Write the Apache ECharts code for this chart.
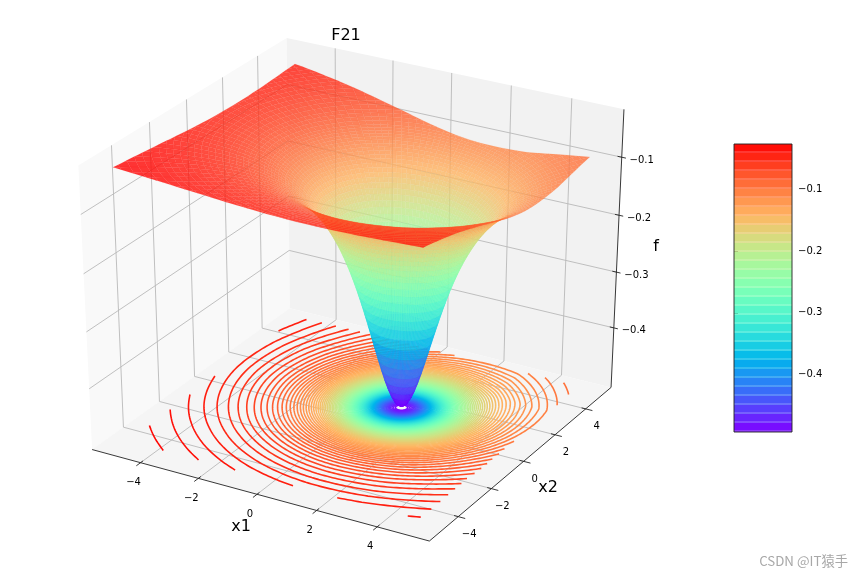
<!DOCTYPE html>
<html>
<head>
<meta charset="utf-8">
<style>html,body{margin:0;padding:0;background:#fff}#chart{width:864px;height:576px}</style>
<script src="https://cdn.jsdelivr.net/npm/echarts@6/dist/echarts.min.js"></script>
</head>
<body>
<div id="chart"></div>
<script>
// tick labels
var x1Ticks = [-4, -2, 0, 2, 4];
var x2Ticks = [-4, -2, 0, 2, 4];
var fTicks = [-0.4, -0.3, -0.2, -0.1];

// the well around (1,1): f against distance
var wellCenter = [1, 1];
var wellRadius = [0, 0.1, 0.2, 0.3, 0.4, 0.5, 0.6, 0.7, 0.8, 0.9, 1, 1.1, 1.2, 1.3, 1.4, 1.5, 1.6, 1.7, 1.8, 1.9, 2,
    2.1, 2.2, 2.3, 2.4, 2.5, 2.6, 2.7, 2.8, 2.9, 3, 3.1, 3.2, 3.3, 3.4, 3.5, 3.6, 3.7, 3.8, 3.9, 4,
    4.15, 4.3, 4.45, 4.6, 4.8, 5, 5.2, 5.4, 5.6, 5.8, 6, 6.2, 6.4, 6.6, 6.8, 7, 7.25, 7.5, 7.75, 8, 8.3, 8.6];
var wellValue = [-0.4545, -0.4525, -0.4464, -0.4367, -0.4237, -0.4082, -0.3906, -0.3717, -0.3521, -0.3322, -0.3125,
    -0.2933, -0.2747, -0.2571, -0.2404, -0.2247, -0.2101, -0.1965, -0.1838, -0.1721, -0.1613,
    -0.1513, -0.142, -0.1335, -0.1256, -0.1183, -0.1116, -0.1054, -0.0996, -0.0943, -0.0893,
    -0.0847, -0.0804, -0.0764, -0.0727, -0.0692, -0.066, -0.0629, -0.0601, -0.0574, -0.0549,
    -0.0515, -0.0483, -0.0455, -0.0428, -0.0396, -0.0368, -0.0342, -0.0319, -0.0298, -0.0279, -0.0262,
    -0.0246, -0.0232, -0.0219, -0.0206, -0.0195, -0.0183, -0.0171, -0.0161, -0.0151, -0.0141, -0.0131];

// slow tilt of the sheet under the well, rows go x2 = -5..5, columns x1 = -5..5
var tiltNodes = [-5, -3, -1, 1, 3, 5];
var tiltRows = [
    [-0.0142, -0.0164, -0.0186, -0.0205, -0.0217, -0.0220],
    [-0.0167, -0.0198, -0.0231, -0.0262, -0.0283, -0.0287],
    [-0.0194, -0.0237, -0.0287, -0.0337, -0.0373, -0.0379],
    [-0.0220, -0.0277, -0.0349, -0.0427, -0.0487, -0.0494],
    [-0.0240, -0.0311, -0.0402, -0.0509, -0.0594, -0.0604],
    [-0.0251, -0.0327, -0.0427, -0.0543, -0.0637, -0.0647]
];

var fMin = -0.4956, fMax = -0.029;
var contourStart = -0.4902, contourStep = 0.00467, contourCount = 99;
var contourOffset = -0.5;
var colorbarBands = 32;
var colorbarMin = -0.4931, colorbarMax = -0.0265;

var xLim = 5.7, zLow = -0.509, zHigh = -0.019;

// mplot3d default camera, elev 30 azim -60 dist 10, on a unit cube
function projectNorm(nx, ny, nz) {
    var u = 0.8660254 * nx + 0.5 * ny;
    var v = -0.25 * nx + 0.4330127 * ny + 0.8660254 * nz;
    var n = 0.4330127 * nx - 0.75 * ny + 0.5 * nz;
    var w = 10 - n;
    return [u / w, v / w, w];
}
function project(x, y, f) {
    return projectNorm(x / (2 * xLim), y / (2 * xLim), (f - zLow) / (zHigh - zLow) - 0.5);
}
function rainbow(t, alpha) {
    t = Math.max(0, Math.min(1, t));
    var r = Math.min(1, Math.abs(2 * t - 0.5));
    var g = Math.sin(Math.PI * t);
    var b = Math.cos(Math.PI * t / 2);
    return 'rgba(' + Math.round(r * 255) + ',' + Math.round(g * 255) + ',' + Math.round(b * 255) + ',' + alpha + ')';
}
function colorOf(f, alpha) {
    return rainbow((f - fMin) / (fMax - fMin), alpha);
}
function tiltAt(x, y) {
    var cx = Math.max(0, Math.min(4.999, (x + 5) / 2));
    var cy = Math.max(0, Math.min(4.999, (y + 5) / 2));
    var i = Math.floor(cx), j = Math.floor(cy);
    var a = cx - i, b = cy - j;
    return (tiltRows[j][i] * (1 - a) + tiltRows[j][i + 1] * a) * (1 - b) +
        (tiltRows[j + 1][i] * (1 - a) + tiltRows[j + 1][i + 1] * a) * b;
}

// mesh vertex: [x1, x2, f]
function vertex(ring, angle) {
    var x = wellCenter[0] + wellRadius[ring] * Math.cos(angle);
    var y = wellCenter[1] + wellRadius[ring] * Math.sin(angle);
    return [x, y, wellValue[ring] + tiltAt(x, y)];
}
function clipSide(poly, axis, limit, sign) {
    var out = [];
    for (var i = 0; i < poly.length; i++) {
        var p = poly[i], q = poly[(i + 1) % poly.length];
        var dp = sign * (p[axis] - limit), dq = sign * (q[axis] - limit);
        if (dp >= 0) out.push(p);
        if ((dp >= 0) != (dq >= 0)) {
            var t = dp / (dp - dq);
            out.push([p[0] + (q[0] - p[0]) * t, p[1] + (q[1] - p[1]) * t, p[2] + (q[2] - p[2]) * t]);
        }
    }
    return out;
}
function clipSquare(poly) {
    poly = clipSide(poly, 0, -5, 1);
    if (poly.length) poly = clipSide(poly, 0, 5, -1);
    if (poly.length) poly = clipSide(poly, 1, -5, 1);
    if (poly.length) poly = clipSide(poly, 1, 5, -1);
    return poly;
}

var sectors = 120;
var surfaceCells = [];
for (var ri = 0; ri < wellRadius.length - 1; ri++) {
    for (var si = 0; si < sectors; si++) {
        var a0 = si / sectors * 2 * Math.PI, a1 = (si + 1) / sectors * 2 * Math.PI;
        var raw = [vertex(ri, a0), vertex(ri + 1, a0), vertex(ri + 1, a1), vertex(ri, a1)];
        var poly = clipSquare(raw);
        if (poly.length < 3) continue;
        var sum = 0, depth = 0, pts = [];
        for (var k = 0; k < poly.length; k++) {
            var pr = project(poly[k][0], poly[k][1], poly[k][2]);
            pts.push([pr[0], pr[1]]);
            sum += poly[k][2];
            depth += pr[2];
        }
        surfaceCells.push({pts: pts, f: sum / poly.length, depth: depth / poly.length});
    }
}
surfaceCells.sort(function (a, b) { return b.depth - a.depth; });

// contour arcs on the floor: walk out along each direction until the level is crossed
var contourArcs = [];
(function () {
    var steps = 360, table = [];
    for (var s = 0; s < steps; s++) {
        var row = [], ang = s / steps * 2 * Math.PI;
        for (var r = 0; r < wellRadius.length; r++) row.push(vertex(r, ang)[2]);
        table.push(row);
    }
    for (var n = 0; n < contourCount; n++) {
        var level = contourStart + contourStep * n;
        var points = [];
        for (var s2 = 0; s2 < steps; s2++) {
            var row2 = table[s2], hit = null;
            for (var i = 0; i < row2.length - 1; i++) {
                if (row2[i] <= level && row2[i + 1] > level) {
                    hit = wellRadius[i] + (wellRadius[i + 1] - wellRadius[i]) * (level - row2[i]) / (row2[i + 1] - row2[i]);
                    break;
                }
            }
            var keep = null;
            if (hit !== null) {
                var ang2 = s2 / steps * 2 * Math.PI;
                var px = wellCenter[0] + hit * Math.cos(ang2), py = wellCenter[1] + hit * Math.sin(ang2);
                if (Math.abs(px) <= 5 && Math.abs(py) <= 5) keep = project(px, py, contourOffset);
            }
            points.push(keep);
        }
        // cut the closed loop at a gap so that arcs do not get split at angle 0
        var start = points.indexOf(null);
        var cur = [];
        for (var j = 0; j <= steps; j++) {
            var pt = points[(Math.max(start, 0) + j) % steps];
            if (pt) {
                cur.push([pt[0], pt[1]]);
            } else if (cur.length) {
                contourArcs.push({pts: cur, level: level});
                cur = [];
            }
        }
        if (cur.length) contourArcs.push({pts: cur, level: level});
    }
})();

// panes, grid lines, axis lines and tick labels
var frameItems = [];
function addPane(a, b, c, d, fill) {
    frameItems.push({kind: 'pane', pts: [a, b, c, d].map(function (p) { return projectNorm(p[0], p[1], p[2]); }), fill: fill});
}
function addLine(a, b, color, width) {
    frameItems.push({kind: 'line', pts: [projectNorm(a[0], a[1], a[2]), projectNorm(b[0], b[1], b[2])], color: color, width: width});
}
function addText(a, dx, dy, text, size) {
    frameItems.push({kind: 'text', at: projectNorm(a[0], a[1], a[2]), dx: dx, dy: dy, text: text, size: size});
}
function minusText(v, digits) {
    return v.toFixed(digits).replace('-', '\u2212');
}
var h = 0.5;
addPane([-h, -h, -h], [-h, h, -h], [-h, h, h], [-h, -h, h], '#f9f9f9');
addPane([-h, h, -h], [h, h, -h], [h, h, h], [-h, h, h], '#f2f2f2');
addPane([-h, -h, -h], [h, -h, -h], [h, h, -h], [-h, h, -h], '#f5f5f5');
var gridColor = '#b9b9b9', gridWidth = 0.9, inkColor = '#222';
x1Ticks.forEach(function (v) {
    var n = v / (2 * xLim);
    addLine([n, -h, -h], [n, h, -h], gridColor, gridWidth);
    addLine([n, h, -h], [n, h, h], gridColor, gridWidth);
});
x2Ticks.forEach(function (v) {
    var n = v / (2 * xLim);
    addLine([h, n, -h], [-h, n, -h], gridColor, gridWidth);
    addLine([-h, n, -h], [-h, n, h], gridColor, gridWidth);
});
fTicks.forEach(function (v) {
    var n = (v - zLow) / (zHigh - zLow) - 0.5;
    addLine([-h, -h, n], [-h, h, n], gridColor, gridWidth);
    addLine([-h, h, n], [h, h, n], gridColor, gridWidth);
});
addLine([-h, -h, -h], [h, -h, -h], inkColor, 0.9);
addLine([h, -h, -h], [h, h, -h], inkColor, 0.9);
addLine([h, h, -h], [h, h, h], inkColor, 0.9);
x1Ticks.forEach(function (v) {
    var n = v / (2 * xLim);
    addLine([n, -h + 0.012, -h], [n, -h - 0.02, -h], inkColor, 0.9);
    addText([n, -h, -h], -7, 20, minusText(v, 0), 10);
});
x2Ticks.forEach(function (v) {
    var n = v / (2 * xLim);
    addLine([h - 0.012, n, -h], [h + 0.02, n, -h], inkColor, 0.9);
    addText([h, n, -h], 11, 18, minusText(v, 0), 10);
});
fTicks.forEach(function (v) {
    var n = (v - zLow) / (zHigh - zLow) - 0.5;
    addLine([h - 0.012, h, n], [h + 0.012, h, n], inkColor, 0.9);
    addText([h, h, n], 20, 3, minusText(v, 1), 10);
});

function toScreen(api, p) {
    return api.coord([p[0], p[1]]);
}
var chart = echarts.init(document.getElementById('chart'));
var bandIndex = [];
for (var b = 0; b < colorbarBands; b++) bandIndex.push([0, fMin + (fMax - fMin) * (b + 0.5) / colorbarBands, b]);

chart.setOption({
    animation: false,
    backgroundColor: '#fff',
    title: [
        {text: 'F21', left: 341, top: 23, textAlign: 'center',
            textStyle: {fontFamily: 'DejaVu Sans', fontSize: 16, fontWeight: 'normal', color: '#000'}},
        {text: 'CSDN @IT猿手', right: 11, top: 549,
            textStyle: {fontFamily: 'Noto Sans CJK SC', fontSize: 13.3, fontWeight: 'normal', color: '#a8a8a8'}}
    ],
    grid: [
        {left: 0, top: 0, width: 864, height: 576},
        {left: 734, top: 144, width: 58, height: 288}
    ],
    // first pair of axes is the projection plane of the 3D view
    xAxis: [
        {gridIndex: 0, type: 'value', min: -0.09134, max: 0.13059, show: false},
        {gridIndex: 1, type: 'value', min: 0, max: 1, show: false}
    ],
    yAxis: [
        {gridIndex: 0, type: 'value', min: -0.09097, max: 0.08665, show: false},
        {gridIndex: 1, type: 'value', min: colorbarMin, max: colorbarMax, position: 'right',
            splitLine: {show: false},
            axisLine: {show: false},
            axisTick: {show: true, length: 4, lineStyle: {color: '#222', width: 0.9}, customValues: fTicks},
            axisLabel: {show: true, margin: 6, fontFamily: 'DejaVu Sans', fontSize: 10, color: '#000', customValues: fTicks,
                formatter: function (v) { return minusText(v, 1); }}}
    ],
    series: [
        {
            type: 'custom', name: 'frame', xAxisIndex: 0, yAxisIndex: 0, clip: false, silent: true, progressive: 0, z: 1,
            data: frameItems.map(function (d, i) { return [0, 0, i]; }),
            renderItem: function (params, api) {
                var d = frameItems[params.dataIndex];
                if (d.kind == 'pane') {
                    return {type: 'polygon', shape: {points: d.pts.map(function (p) { return toScreen(api, p); })}, style: {fill: d.fill}};
                }
                if (d.kind == 'line') {
                    return {type: 'polyline', shape: {points: d.pts.map(function (p) { return toScreen(api, p); })},
                        style: {stroke: d.color, lineWidth: d.width, fill: null}};
                }
                var at = toScreen(api, d.at);
                return {type: 'text', style: {x: at[0] + d.dx, y: at[1] + d.dy, text: d.text, fill: '#000',
                    font: d.size + 'px "DejaVu Sans"', align: 'center', verticalAlign: 'middle'}};
            }
        },
        {
            type: 'custom', name: 'contour', xAxisIndex: 0, yAxisIndex: 0, clip: false, silent: true, progressive: 0, z: 2,
            data: contourArcs.map(function (d) { return [d.pts[0][0], d.pts[0][1]]; }),
            renderItem: function (params, api) {
                var d = contourArcs[params.dataIndex];
                return {type: 'polyline', shape: {points: d.pts.map(function (p) { return toScreen(api, p); })},
                    style: {stroke: colorOf(d.level, 1), lineWidth: 1.6, fill: null}};
            }
        },
        {
            type: 'custom', name: 'surface', xAxisIndex: 0, yAxisIndex: 0, clip: false, silent: true, progressive: 0, z: 3,
            data: surfaceCells.map(function (d) { return [d.pts[0][0], d.pts[0][1]]; }),
            renderItem: function (params, api) {
                var d = surfaceCells[params.dataIndex];
                return {type: 'polygon', shape: {points: d.pts.map(function (p) { return toScreen(api, p); })},
                    style: {fill: colorOf(d.f, 0.8), stroke: colorOf(d.f, 0.25), lineWidth: 0.25}};
            }
        },
        {
            type: 'custom', name: 'colorbar', xAxisIndex: 1, yAxisIndex: 1, clip: false, silent: true, progressive: 0, z: 4,
            encode: {x: 0, y: 1},
            data: bandIndex,
            renderItem: function (params, api) {
                var b = api.value(2);
                var span = colorbarMax - colorbarMin;
                var lo = api.coord([0, colorbarMin + span * b / colorbarBands]);
                var hi = api.coord([1, colorbarMin + span * (b + 1) / colorbarBands]);
                var solid = colorOf(api.value(1), 1), pale = colorOf(api.value(1), 0.82);
                return {type: 'rect', shape: {x: lo[0], y: hi[1], width: hi[0] - lo[0], height: lo[1] - hi[1]},
                    style: {fill: new echarts.graphic.LinearGradient(0, 0, 0, 1, [
                        {offset: 0, color: solid}, {offset: 0.78, color: solid},
                        {offset: 0.79, color: pale}, {offset: 1, color: pale}])}};
            }
        },
        {
            type: 'custom', name: 'colorbar outline', xAxisIndex: 1, yAxisIndex: 1, clip: false, silent: true, z: 5,
            data: [[0, colorbarMin]],
            renderItem: function (params, api) {
                var lo = api.coord([0, colorbarMin]), hi = api.coord([1, colorbarMax]);
                return {type: 'rect', shape: {x: lo[0], y: hi[1], width: hi[0] - lo[0], height: lo[1] - hi[1]},
                    style: {fill: null, stroke: '#222', lineWidth: 0.9}};
            }
        }
    ],
    graphic: [
        {type: 'text', x: 241, y: 527, style: {text: 'x1', font: '16px "DejaVu Sans"', fill: '#000', align: 'center', verticalAlign: 'middle'}},
        {type: 'text', x: 548, y: 488, style: {text: 'x2', font: '16px "DejaVu Sans"', fill: '#000', align: 'center', verticalAlign: 'middle'}},
        {type: 'text', x: 656, y: 247, style: {text: 'f', font: '16px "DejaVu Sans"', fill: '#000', align: 'center', verticalAlign: 'middle'}}
    ]
});
</script>
</body>
</html>
